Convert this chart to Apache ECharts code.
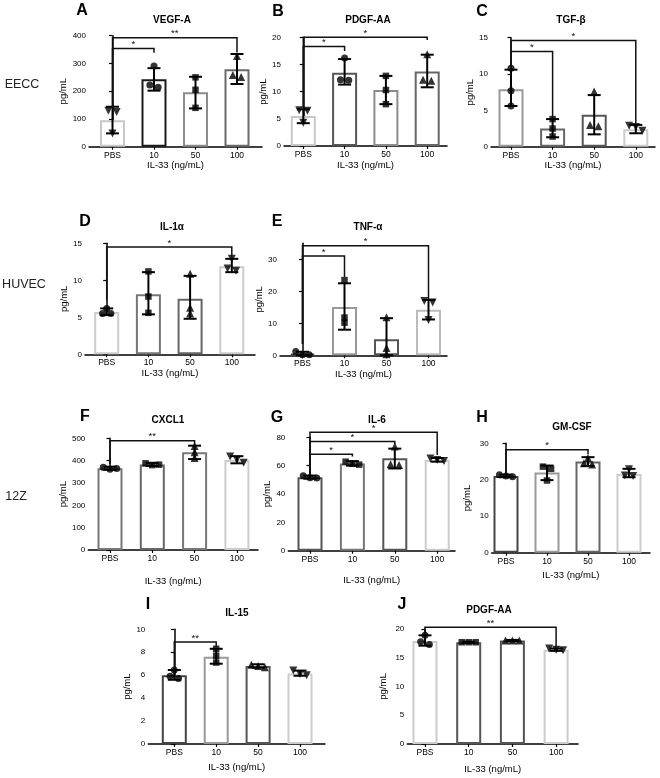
<!doctype html>
<html lang="en">
<head>
<meta charset="UTF-8">
<title>IL-33 secretion panels</title>
<script src="https://cdn.jsdelivr.net/npm/echarts@6/dist/echarts.min.js"></script>
<style>
  html, body { margin: 0; padding: 0; background: #fff; }
  #main { width: 660px; height: 778px; }
</style>
</head>
<body>
<div id="main"></div>
<script>
var groups = ['PBS', '10', '50', '100'];

// A  VEGF-A (EECC)
var vegfMean = [95, 243, 196, 279];
var vegfLo = [48, 202, 138, 226];
var vegfHi = [144, 283, 252, 334];
var vegfPts = [[130, 125, 48], [291, 222, 214], [250, 205, 140], [327, 258, 251]];
var vegfSig = [[0, 1, 354, 144, 339, '*'], [0, 3, 393, 144, 340, '**']];

// B  PDGF-AA (EECC)
var pdgfMean = [5.5, 13.5, 10.3, 13.7];
var pdgfLo = [4.2, 11.3, 7.7, 10.8];
var pdgfHi = [6.75, 16.0, 12.9, 16.8];
var pdgfPts = [[6.6, 6.5, 4.3], [16.2, 12.2, 12.1], [12.9, 10.3, 7.7], [16.9, 12.2, 12.0]];
var pdgfSig = [[0, 1, 18.3, 6.9, 17.5, '*'], [0, 3, 20, 6.9, 19.5, '*']];

// C  TGF-b (EECC)
var tgfMean = [7.9, 2.5, 4.4, 2.4];
var tgfLo = [5.6, 1.3, 1.7, 1.85];
var tgfHi = [10.6, 3.8, 7.1, 3.0];
var tgfPts = [[10.8, 7.7, 5.6], [3.8, 2.5, 1.4], [7.6, 3.0, 2.8], [2.9, 2.7, 2.2]];
var tgfSig = [[0, 1, 13.1, 11.2, 3.9, '*'], [0, 3, 14.6, 11.2, 3.1, '*']];

// D  IL-1a (HUVEC)
var il1Mean = [5.7, 8.1, 7.5, 11.9];
var il1Lo = [5.3, 5.4, 4.8, 11.1];
var il1Hi = [6.2, 11.1, 10.6, 12.9];
var il1Pts = [[6.2, 5.5, 5.5], [11.2, 7.8, 5.6], [10.9, 6.3, 5.5], [12.9, 11.6, 11.3]];
var il1Sig = [[0, 3, 14.5, 7.3, 13.1, '*']];

// E  TNF-a (HUVEC)
var tnfMean = [0.5, 15.1, 5.0, 14.2];
var tnfLo = [0, 8.0, 0, 11.2];
var tnfHi = [1.1, 22.5, 11.6, 17.3];
var tnfPts = [[1.2, 0.2, 0.2], [23.5, 11.8, 10.2], [11.9, 2.3, 0.3], [17.0, 16.5, 11.0]];
var tnfSig = [[0, 1, 31, 3.5, 24.5, '*'], [0, 3, 34.2, 3.5, 17.5, '*']];

// F  CXCL1 (12Z)
var cxclMean = [366, 383, 437, 403];
var cxclLo = [359, 376, 407, 388];
var cxclHi = [373, 390, 467, 420];
var cxclPts = [[370, 362, 365], [388, 380, 382], [466, 437, 412], [418, 404, 390]];
var cxclSig = [[0, 2, 489, 385, 467, '**']];

// G  IL-6 (12Z)
var il6Mean = [51.8, 61.6, 65.2, 64.0];
var il6Lo = [50.8, 60.0, 58.0, 62.8];
var il6Hi = [53.0, 63.2, 72.0, 65.4];
var il6Pts = [[52.8, 51.5, 51.3], [62.8, 61.3, 60.7], [73.5, 61.0, 60.5], [65.0, 64.0, 63.2]];
var il6Sig = [[0, 1, 68, 54, 66.4, '*'], [0, 2, 77, 54, 75, '*'], [0, 3, 83.5, 54, 67.5, '*']];

// H  GM-CSF (12Z)
var gmMean = [21.0, 22.0, 25.0, 21.6];
var gmLo = [20.7, 19.9, 23.8, 20.7];
var gmHi = [21.4, 23.9, 26.2, 23.0];
var gmPts = [[21.4, 21.0, 20.8], [23.6, 23.0, 19.8], [26.0, 24.5, 24.2], [22.9, 21.2, 21.0]];
var gmSig = [[0, 2, 28.2, 22, 27, '*']];

// I  IL-15 (12Z)
var il15Mean = [6.0, 7.6, 6.8, 6.15];
var il15Lo = [5.6, 7.0, 6.65, 5.95];
var il15Hi = [6.45, 8.3, 6.95, 6.4];
var il15Pts = [[6.45, 5.9, 5.7], [8.3, 7.7, 7.1], [6.9, 6.8, 6.7], [6.4, 6.1, 6.0]];
var il15Sig = [[0, 1, 8.9, 6.55, 8.43, '**']];

// J  PDGF-AA (12Z)
var pdgf2Mean = [17.9, 17.7, 18.0, 16.4];
var pdgf2Lo = [17.1, 17.6, 17.9, 16.2];
var pdgf2Hi = [18.9, 17.8, 18.1, 16.6];
var pdgf2Pts = [[18.9, 17.8, 17.3], [17.7, 17.7, 17.7], [18.0, 18.0, 18.0], [16.6, 16.4, 16.3]];
var pdgf2Sig = [[0, 3, 20.3, 19.2, 16.8, '**']];

var rowLabels = [['EECC', 22, 85], ['HUVEC', 24, 285], ['12Z', 16, 497]];

var symA = ['invtri', 'circle', 'rect', 'triangle'];
var symD = ['circle', 'rect', 'triangle', 'invtri'];

// layout: ax = y axis x, c0 = first bar centre, s = bar spacing, end = x axis end,
// top/zero = pixel rows of y max and 0
var panels = [
  {id: 'A', title: 'VEGF-A', mean: vegfMean, lo: vegfLo, hi: vegfHi, pts: vegfPts, sig: vegfSig, ymax: 400, step: 100,
   ax: 89, c0: 112.5, s: 41.5, end: 262, top: 35.7, zero: 146.7, letter: [82, 11], head: [172, 20], xg: 14, yg: 15,
   colors: ['#c8c8c8', '#1a1a1a', '#8c8c8c', '#6a6a6a'], sym: symA},
  {id: 'B', title: 'PDGF-AA', mean: pdgfMean, lo: pdgfLo, hi: pdgfHi, pts: pdgfPts, sig: pdgfSig, ymax: 20, step: 5,
   ax: 284, c0: 303.3, s: 41.3, end: 447, top: 37.3, zero: 146, letter: [278, 12], head: [368, 20], xg: 14, yg: 15,
   colors: ['#c8c8c8', '#555', '#8c8c8c', '#666'], sym: symA},
  {id: 'C', title: 'TGF-β', mean: tgfMean, lo: tgfLo, hi: tgfHi, pts: tgfPts, sig: tgfSig, ymax: 15, step: 5,
   ax: 491, c0: 511, s: 41.6, end: 655, top: 37.7, zero: 146.7, letter: [482, 12], head: [571, 20], xg: 14, yg: 14,
   colors: ['#999', '#666', '#555', '#ccc'], sym: symD},
  {id: 'D', title: 'IL-1α', mean: il1Mean, lo: il1Lo, hi: il1Hi, pts: il1Pts, sig: il1Sig, ymax: 15, step: 5,
   ax: 85, c0: 106.7, s: 41.7, end: 255, top: 243.3, zero: 354.3, letter: [85, 222], head: [172, 227], xg: 13, yg: 15,
   colors: ['#ccc', '#777', '#666', '#ccc'], sym: symD},
  {id: 'E', title: 'TNF-α', mean: tnfMean, lo: tnfLo, hi: tnfHi, pts: tnfPts, sig: tnfSig, ymax: 35, step: 10, ticks: [0, 10, 20, 30],
   ax: 280, c0: 302.5, s: 42, end: 447, top: 243.3, zero: 355.3, letter: [277, 222], head: [368, 227], xg: 13, yg: 15,
   colors: ['#444', '#999', '#555', '#bbb'], sym: symD},
  {id: 'F', title: 'CXCL1', mean: cxclMean, lo: cxclLo, hi: cxclHi, pts: cxclPts, sig: cxclSig, ymax: 500, step: 100,
   ax: 88.3, c0: 110, s: 42.3, end: 258, top: 438.3, zero: 550, letter: [85, 417], head: [168, 420], xg: 26, yg: 16,
   colors: ['#777', '#666', '#777', '#ccc'], sym: symD},
  {id: 'G', title: 'IL-6', mean: il6Mean, lo: il6Lo, hi: il6Hi, pts: il6Pts, sig: il6Sig, ymax: 80, step: 20,
   ax: 288.3, c0: 310, s: 42.4, end: 455, top: 437.3, zero: 550.7, letter: [277, 418], head: [377, 420], xg: 25, yg: 16,
   colors: ['#555', '#777', '#555', '#ccc'], sym: symD},
  {id: 'H', title: 'GM-CSF', mean: gmMean, lo: gmLo, hi: gmHi, pts: gmPts, sig: gmSig, ymax: 30, step: 10,
   ax: 491.7, c0: 506, s: 41, end: 650, top: 443.3, zero: 552.7, letter: [482, 418], head: [572, 427], xg: 18, yg: 19,
   colors: ['#444', '#999', '#666', '#ccc'], sym: symD},
  {id: 'I', title: 'IL-15', mean: il15Mean, lo: il15Lo, hi: il15Hi, pts: il15Pts, sig: il15Sig, ymax: 10, step: 2,
   ax: 148.3, c0: 174.3, s: 41.9, end: 325, top: 629.3, zero: 744, letter: [148, 605], head: [237, 613], xg: 18, yg: 12,
   colors: ['#444', '#999', '#555', '#ccc'], sym: symD},
  {id: 'J', title: 'PDGF-AA', mean: pdgf2Mean, lo: pdgf2Lo, hi: pdgf2Hi, pts: pdgf2Pts, sig: pdgf2Sig, ymax: 20, step: 5,
   ax: 407.3, c0: 425, s: 43.7, end: 578, top: 629, zero: 744, letter: [402, 605], head: [489, 610], xg: 20, yg: 19,
   colors: ['#ccc', '#555', '#555', '#ccc'], sym: symD}
];

var FONT = '"Liberation Sans", Arial, sans-serif';

// push points with nearly equal values apart sideways
function spread(vals, tol) {
  var off = [0, 0, 0];
  var idx = [];
  vals.forEach(function (v, i) {
    var near = vals.some(function (w, j) { return j !== i && Math.abs(w - v) < tol; });
    if (near) idx.push(i);
  });
  if (idx.length === 2) { off[idx[0]] = -0.1; off[idx[1]] = 0.1; }
  if (idx.length === 3) { off[idx[0]] = -0.16; off[idx[1]] = 0; off[idx[2]] = 0.16; }
  return off;
}

var grids = [], xAxes = [], yAxes = [], series = [], texts = [];

panels.forEach(function (p, k) {
  grids.push({left: p.ax, top: p.top, width: p.end - p.ax, height: p.zero - p.top});

  xAxes.push({
    gridIndex: k, type: 'value',
    min: -(p.c0 - p.ax) / p.s, max: (p.end - p.c0) / p.s,
    axisLine: {show: true, onZero: false, lineStyle: {color: '#000', width: 1.5}},
    axisTick: {show: true, customValues: [0, 1, 2, 3], length: 3, lineStyle: {color: '#000', width: 1.2}},
    axisLabel: {customValues: [0, 1, 2, 3], formatter: function (v) { return groups[Math.round(v)]; },
                fontSize: 8.5, color: '#000', margin: 4, fontFamily: FONT},
    splitLine: {show: false},
    name: 'IL-33 (ng/mL)', nameLocation: 'middle', nameGap: p.xg,
    nameTextStyle: {fontSize: 9.5, color: '#000', fontFamily: FONT}
  });

  var yAx = {
    gridIndex: k, type: 'value', min: 0, max: p.ymax, interval: p.step,
    axisLine: {show: true, lineStyle: {color: '#000', width: 1.5}},
    axisTick: {show: true, length: 3.5, lineStyle: {color: '#000', width: 1.2}},
    axisLabel: {fontSize: 8, color: '#000', margin: 3, fontFamily: FONT},
    splitLine: {show: false},
    name: 'pg/mL', nameLocation: 'middle', nameGap: p.yg, nameRotate: 90,
    nameTextStyle: {fontSize: 9.5, color: '#000', fontFamily: FONT}
  };
  if (p.ticks) {
    yAx.axisTick.customValues = p.ticks;
    yAx.axisLabel.customValues = p.ticks;
  }
  yAxes.push(yAx);

  series.push({
    type: 'bar', xAxisIndex: k, yAxisIndex: k, barWidth: 25, z: 2,
    data: p.mean.map(function (v, i) {
      return {value: [i, v], itemStyle: {color: '#fff', borderColor: p.colors[i], borderWidth: 2}};
    })
  });

  var tol = p.ymax * 0.04;
  var pts = [];
  p.pts.forEach(function (g, i) {
    var off = spread(g, tol);
    var sym = p.sym[i];
    g.forEach(function (v, j) {
      pts.push({
        value: [i + off[j], v],
        symbol: sym === 'invtri' ? 'triangle' : sym,
        symbolRotate: sym === 'invtri' ? 180 : 0,
        symbolSize: sym === 'rect' ? 6.5 : (sym === 'circle' ? 7 : 8)
      });
    });
  });
  series.push({
    type: 'scatter', xAxisIndex: k, yAxisIndex: k, z: 3,
    itemStyle: {color: '#000'}, data: pts, silent: true
  });

  series.push({
    type: 'custom', xAxisIndex: k, yAxisIndex: k, z: 4,
    data: p.mean.map(function (v, i) { return [i, p.lo[i], p.hi[i]]; }),
    encode: {x: 0, y: [1, 2]},
    renderItem: function (params, api) {
      var a = api.coord([api.value(0), api.value(1)]);
      var b = api.coord([api.value(0), api.value(2)]);
      var st = {stroke: '#000', lineWidth: 2};
      return {type: 'group', children: [
        {type: 'line', shape: {x1: a[0], y1: a[1], x2: b[0], y2: b[1]}, style: st},
        {type: 'line', shape: {x1: a[0] - 6.5, y1: a[1], x2: a[0] + 6.5, y2: a[1]}, style: st},
        {type: 'line', shape: {x1: b[0] - 6.5, y1: b[1], x2: b[0] + 6.5, y2: b[1]}, style: st}
      ]};
    }
  });

  var sig = p.sig;
  series.push({
    type: 'custom', xAxisIndex: k, yAxisIndex: k, z: 5, clip: false,
    data: sig.map(function (r) { return r.slice(0, 5); }),
    encode: {x: [0, 1], y: [2, 3, 4]},
    renderItem: function (params, api) {
      var i0 = api.value(0), i1 = api.value(1), y = api.value(2);
      var p1 = api.coord([i0, api.value(3)]), p2 = api.coord([i0, y]);
      var p3 = api.coord([i1, y]), p4 = api.coord([i1, api.value(4)]);
      return {type: 'group', children: [
        {type: 'polyline', shape: {points: [p1, p2, p3, p4]}, style: {stroke: '#111', lineWidth: 1.5, fill: null}},
        {type: 'text', style: {text: sig[params.dataIndex][5], x: (p2[0] + p3[0]) / 2, y: p2[1] + 1,
          textAlign: 'center', textVerticalAlign: 'bottom', font: '9.5px ' + FONT, fill: '#111'}}
      ]};
    }
  });

  texts.push({type: 'text', x: p.letter[0], y: p.letter[1],
    style: {text: p.id, font: 'bold 16px ' + FONT, fill: '#000', textAlign: 'center', textVerticalAlign: 'middle'}});
  texts.push({type: 'text', x: p.head[0], y: p.head[1],
    style: {text: p.title, font: 'bold 10px ' + FONT, fill: '#000', textAlign: 'center', textVerticalAlign: 'middle'}});
});

rowLabels.forEach(function (r) {
  texts.push({type: 'text', x: r[1], y: r[2],
    style: {text: r[0], font: '12.5px ' + FONT, fill: '#222', textAlign: 'center', textVerticalAlign: 'middle'}});
});

var myChart = echarts.init(document.getElementById('main'), null, {renderer: 'canvas'});
myChart.setOption({
  animation: false,
  backgroundColor: '#fff',
  grid: grids,
  xAxis: xAxes,
  yAxis: yAxes,
  series: series,
  graphic: texts
});
</script>
</body>
</html>
